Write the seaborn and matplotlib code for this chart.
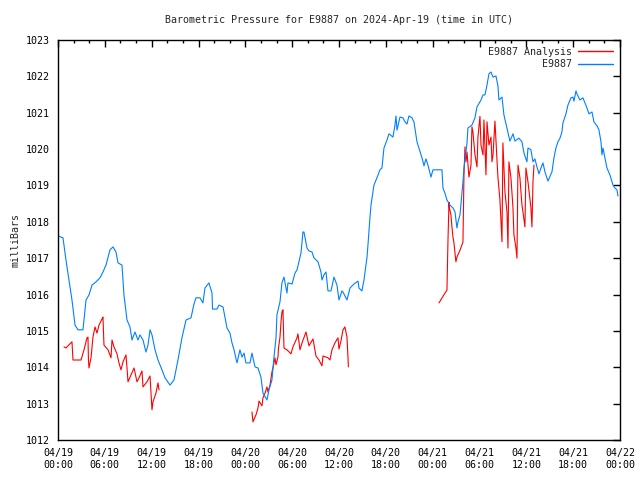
import numpy as np
import pandas as pd
import seaborn as sns
import matplotlib
matplotlib.use("Agg")
from matplotlib import pyplot as plt
from matplotlib.lines import Line2D
import matplotlib.dates as mdates

# hours after 2024-04-19 00:00 UTC, pressure in mb
obs_hours = [0.00, 0.64, 1.02, 1.41, 1.79, 2.18, 2.56, 3.20, 3.59, 3.97, 4.36, 4.87, 5.38, 5.76,
             6.15, 6.66, 7.05, 7.43, 7.69, 8.20, 8.45, 8.84, 9.22, 9.48, 9.86, 10.25, 10.50, 10.89,
             11.27, 11.53, 11.79, 12.04, 12.43, 12.81, 13.32, 13.71, 14.35, 14.86, 15.37, 15.88,
             16.40, 17.04, 17.42, 17.68, 18.19, 18.57, 18.83, 19.34, 19.73, 19.80, 20.37, 20.62,
             21.14, 21.39, 21.65, 22.03, 22.29, 22.55, 22.93, 23.31, 23.57, 23.83, 24.08, 24.60,
             24.85, 25.24, 25.62, 26.00, 26.26, 26.77, 27.03, 27.41, 27.67, 27.93, 28.05, 28.44,
             28.69, 28.95, 29.33, 29.46, 29.98, 30.36, 30.62, 30.87, 31.13, 31.38, 31.51, 31.90,
             32.15, 32.54, 32.79, 33.31, 33.69, 33.82, 34.07, 34.33, 34.59, 34.97, 35.36, 35.74,
             36.00, 36.38, 36.51, 37.02, 37.41, 37.92, 38.43, 38.56, 38.94, 39.20, 39.58, 39.71,
             39.97, 40.10, 40.48, 40.86, 41.25, 41.50, 41.76, 42.15, 42.40, 42.91, 43.17, 43.30,
             43.43, 43.81, 44.19, 44.45, 44.71, 44.96, 45.35, 45.60, 45.86, 45.99, 46.24, 46.63,
             46.89, 47.14, 47.40, 47.78, 48.04, 48.68, 49.19, 49.32, 49.57, 49.83, 50.22, 50.60,
             50.86, 51.11, 51.24, 51.50, 51.88, 52.01, 52.40, 52.52, 53.03, 53.42, 53.68, 54.19,
             54.45, 54.70, 54.96, 55.21, 55.47, 55.73, 56.11, 56.36, 56.49, 56.88, 57.13, 57.52,
             57.90, 58.29, 58.54, 59.05, 59.44, 59.70, 60.08, 60.21, 60.59, 60.85, 61.10, 61.36,
             61.62, 61.87, 62.13, 62.39, 62.77, 63.28, 63.54, 63.79, 64.05, 64.31, 64.56, 64.69,
             65.08, 65.33, 65.72, 65.97, 66.10, 66.36, 66.48, 66.87, 67.25, 67.51, 67.77, 68.02,
             68.41, 68.66, 69.05, 69.30, 69.56, 69.69, 69.82, 70.07, 70.33, 70.71, 71.10, 71.35,
             71.61, 71.74]
obs_mb = [1017.61, 1017.56, 1016.95, 1016.40, 1015.85, 1015.16, 1015.03, 1015.03, 1015.85, 1015.99,
          1016.26, 1016.35, 1016.46, 1016.62, 1016.81, 1017.23, 1017.31, 1017.17, 1016.87, 1016.81,
          1015.99, 1015.30, 1015.11, 1014.75, 1014.97, 1014.75, 1014.89, 1014.75, 1014.42, 1014.61,
          1015.03, 1014.89, 1014.48, 1014.20, 1013.93, 1013.71, 1013.51, 1013.65, 1014.20, 1014.81,
          1015.30, 1015.36, 1015.74, 1015.91, 1015.91, 1015.77, 1016.18, 1016.32, 1016.04, 1015.60,
          1015.60, 1015.71, 1015.66, 1015.38, 1015.08, 1014.94, 1014.67, 1014.48, 1014.12, 1014.48,
          1014.28, 1014.39, 1014.12, 1014.12, 1014.39, 1014.01, 1013.98, 1013.73, 1013.29, 1013.10,
          1013.38, 1013.65, 1014.28, 1014.81, 1015.44, 1015.80, 1016.32, 1016.48, 1016.04, 1016.32,
          1016.29, 1016.59, 1016.68, 1016.90, 1017.14, 1017.72, 1017.72, 1017.28, 1017.20, 1017.17,
          1017.01, 1016.90, 1016.62, 1016.40, 1016.54, 1016.62, 1016.10, 1016.10, 1016.48, 1016.26,
          1015.85, 1016.10, 1016.07, 1015.85, 1016.18, 1016.29, 1016.37, 1016.18, 1016.10, 1016.40,
          1017.01, 1017.36, 1018.13, 1018.46, 1019.01, 1019.21, 1019.43, 1019.48, 1020.03, 1020.25,
          1020.42, 1020.33, 1020.66, 1020.91, 1020.52, 1020.88, 1020.86, 1020.75, 1020.69, 1020.91,
          1020.86, 1020.75, 1020.39, 1020.20, 1020.03, 1019.76, 1019.54, 1019.73, 1019.56, 1019.23,
          1019.43, 1019.43, 1019.43, 1018.93, 1018.79, 1018.60, 1018.46, 1018.38, 1018.27, 1017.83,
          1018.00, 1018.19, 1019.10, 1019.48, 1020.17, 1020.58, 1020.66, 1020.86, 1021.16, 1021.35,
          1021.49, 1021.49, 1021.76, 1022.07, 1022.12, 1021.98, 1022.01, 1021.74, 1021.35, 1021.43,
          1020.94, 1020.58, 1020.22, 1020.42, 1020.22, 1020.30, 1020.20, 1019.89, 1019.65, 1020.03,
          1019.98, 1019.65, 1019.73, 1019.51, 1019.32, 1019.48, 1019.62, 1019.37, 1019.12, 1019.37,
          1019.76, 1020.03, 1020.20, 1020.30, 1020.47, 1020.72, 1020.97, 1021.21, 1021.41, 1021.43,
          1021.32, 1021.60, 1021.52, 1021.35, 1021.41, 1021.27, 1021.13, 1020.97, 1021.02, 1020.75,
          1020.64, 1020.53, 1020.20, 1019.84, 1020.03, 1019.76, 1019.48, 1019.29, 1019.01, 1018.93,
          1018.88, 1018.71]

# analysis comes in three separate runs
ana1_hours = [0.77, 1.02, 1.28, 1.79, 1.92, 2.95, 3.33, 3.72, 3.84, 3.90, 3.97, 4.23, 4.48, 4.74,
              5.00, 5.25, 5.64, 5.76, 5.89, 6.41, 6.79, 6.92, 7.17, 7.56, 7.81, 8.07, 8.33, 8.71,
              8.84, 8.97, 9.35, 9.74, 10.12, 10.38, 10.76, 10.89, 11.40, 11.79, 12.04, 12.17,
              12.55, 12.81, 12.94]
ana1_mb = [1014.56, 1014.53, 1014.59, 1014.70, 1014.20, 1014.20, 1014.48, 1014.81, 1014.83, 1014.20,
           1013.98, 1014.26, 1014.83, 1015.11, 1014.94, 1015.16, 1015.33, 1015.38, 1014.61, 1014.48,
           1014.26, 1014.75, 1014.56, 1014.37, 1014.12, 1013.93, 1014.15, 1014.34, 1013.98, 1013.60,
           1013.79, 1013.98, 1013.60, 1013.71, 1013.90, 1013.46, 1013.60, 1013.76, 1012.83, 1013.05,
           1013.29, 1013.57, 1013.38]

ana2_hours = [24.85, 24.98, 25.36, 25.62, 25.75, 26.13, 26.26, 26.52, 26.77, 26.90, 27.16, 27.41,
              27.54, 27.80, 27.93, 28.18, 28.25, 28.44, 28.57, 28.69, 28.82, 28.95, 29.33, 29.85,
              30.10, 30.62, 30.74, 31.00, 31.26, 31.77, 32.15, 32.67, 33.05, 33.43, 33.82, 33.95,
              34.59, 34.84, 35.10, 35.48, 35.87, 36.00, 36.25, 36.51, 36.76, 37.02, 37.15, 37.20]
ana2_mb = [1012.77, 1012.50, 1012.69, 1012.88, 1013.07, 1012.94, 1013.16, 1013.29, 1013.46, 1013.32,
           1013.51, 1013.87, 1013.98, 1014.26, 1014.07, 1014.28, 1014.53, 1014.83, 1015.25, 1015.52,
           1015.58, 1014.53, 1014.48, 1014.37, 1014.56, 1014.81, 1014.92, 1014.48, 1014.67, 1014.97,
           1014.59, 1014.78, 1014.31, 1014.20, 1014.04, 1014.31, 1014.26, 1014.20, 1014.48, 1014.67,
           1014.81, 1014.50, 1014.72, 1015.03, 1015.11, 1014.83, 1014.28, 1014.01]

ana3_hours = [48.81, 49.57, 49.83, 49.96, 50.09, 50.15, 50.34, 50.47, 50.60, 50.73, 50.86, 50.98,
              51.11, 51.50, 51.88, 52.01, 52.14, 52.27, 52.40, 52.65, 52.91, 53.03, 53.16, 53.42,
              53.68, 53.80, 54.06, 54.19, 54.45, 54.57, 54.83, 54.96, 55.21, 55.47, 55.60, 55.73,
              55.98, 56.24, 56.36, 56.62, 56.88, 57.00, 57.26, 57.52, 57.65, 57.77, 58.03, 58.29,
              58.41, 58.67, 58.80, 58.93, 59.18, 59.44, 59.57, 59.82, 59.95, 60.21, 60.59, 60.72,
              60.85, 60.98]
ana3_mb = [1015.77, 1016.04, 1016.12, 1017.47, 1018.54, 1018.38, 1018.19, 1017.86, 1017.58, 1017.42,
           1017.14, 1016.90, 1017.03, 1017.22, 1017.44, 1019.29, 1020.06, 1019.65, 1019.92, 1019.23,
           1019.56, 1020.61, 1020.47, 1019.84, 1019.51, 1020.33, 1020.90, 1020.11, 1019.84, 1020.80,
           1019.29, 1020.75, 1020.11, 1020.33, 1019.65, 1019.84, 1020.77, 1019.70, 1019.23, 1018.60,
           1017.45, 1020.17, 1018.82, 1018.27, 1017.28, 1019.65, 1019.21, 1018.38, 1017.64, 1017.28,
           1017.00, 1019.56, 1019.21, 1018.46, 1018.27, 1017.86, 1019.48, 1019.10, 1018.38, 1017.86,
           1019.10, 1019.56]

START = pd.Timestamp("2024-04-19 00:00")
RED = "#ff0000"
BLUE = "#0080ff"


def to_frame(hours, mb, seg=0):
    return pd.DataFrame({"time": START + pd.to_timedelta(hours, unit="h"), "mb": mb, "seg": seg})


def main():
    obs = to_frame(obs_hours, obs_mb)
    ana = pd.concat([to_frame(ana1_hours, ana1_mb, 1),
                     to_frame(ana2_hours, ana2_mb, 2),
                     to_frame(ana3_hours, ana3_mb, 3)], ignore_index=True)

    sns.set_style("white")
    plt.rcParams["font.family"] = ["DejaVu Sans Mono"]
    plt.rcParams["font.size"] = 7.2

    fig = plt.figure(figsize=(6.4, 4.8), dpi=100)
    ax = fig.add_axes([58 / 640, 40 / 480, 562 / 640, 400 / 480])

    sns.lineplot(data=ana, x="time", y="mb", units="seg", estimator=None, sort=False,
                 color=RED, linewidth=0.8, ax=ax)
    sns.lineplot(data=obs, x="time", y="mb", estimator=None, sort=False,
                 color=BLUE, linewidth=0.8, ax=ax)

    ax.set_xlim(START, START + pd.Timedelta(hours=72))
    ax.set_ylim(1012, 1023)
    ax.set_yticks(np.arange(1012, 1024, 1))
    ax.xaxis.set_major_locator(mdates.HourLocator(byhour=[0, 6, 12, 18]))
    ax.xaxis.set_minor_locator(mdates.HourLocator(byhour=range(0, 24, 2)))
    ax.xaxis.set_major_formatter(mdates.DateFormatter("%m/%d\n%H:%M"))
    ax.tick_params(which="both", direction="in", top=True, right=True, colors="black", pad=6,
                   labelsize=7.2)
    ax.tick_params(which="major", length=5, width=1)
    ax.tick_params(which="minor", length=2.5, width=1)
    for s in ax.spines.values():
        s.set_color("black")
        s.set_linewidth(1)

    ax.set_xlabel("")
    ax.set_ylabel("milliBars", fontsize=7.2)
    ax.set_title("Barometric Pressure for E9887 on 2024-Apr-19 (time in UTC)", fontsize=7.2,
                 pad=12)

    handles = [Line2D([], [], color=RED, linewidth=1), Line2D([], [], color=BLUE, linewidth=1)]
    ax.legend(handles, ["E9887 Analysis", "E9887"], loc="upper right", frameon=False,
              markerfirst=False, handlelength=3.5, borderaxespad=0.3, labelspacing=0.25,
              handletextpad=0.6, fontsize=7.2)

    plt.savefig("out.png", dpi=100)
    return 0


if __name__ == "__main__":
    main()
